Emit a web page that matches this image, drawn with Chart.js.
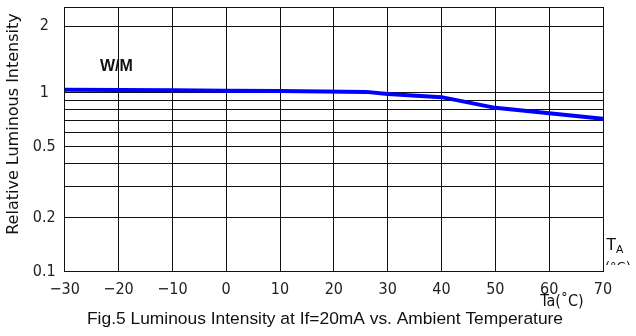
<!DOCTYPE html>
<html>
<head>
<meta charset="utf-8">
<script src="https://cdn.jsdelivr.net/npm/chart.js@4/dist/chart.umd.min.js"></script>
<style>
  html, body { margin: 0; padding: 0; background: #fff; }
  #wrap { width: 636px; height: 336px; position: relative; }
</style>
</head>
<body>
<div id="wrap"><canvas id="c"></canvas></div>
<script>
// Fig.5 - relative luminous intensity vs ambient temperature

const temps = [-30, -10, 0, 10, 26, 30, 40, 50, 60, 70];
const intensity = [1.036, 1.03, 1.024, 1.018, 1.008, 0.98, 0.942, 0.821, 0.767, 0.713];

const xTicks = [-30, -20, -10, 0, 10, 20, 30, 40, 50, 60, 70];
// horizontal grid lines; the "2" line sits at ~2.35 on the log scale in the picture
const yGrid = [0.1, 0.2, 0.3, 0.4, 0.5, 0.6, 0.7, 0.8, 0.9, 1, 2.35, 3];
const yLabelValues = [0.1, 0.2, 0.5, 1, 2.35];
const yLabels = ['0.1', '0.2', '0.5', '1', '2'];

const tickFont = { family: 'DejaVu Sans Condensed, DejaVu Sans', size: 16 };

const extraText = {
  id: 'extraText',
  afterDraw(chart) {
    const c = chart.ctx;
    c.save();
    c.fillStyle = '#111';
    // y axis title
    c.save();
    c.translate(14, 124);
    c.rotate(-Math.PI / 2);
    c.font = '16px "DejaVu Sans"';
    c.textAlign = 'center';
    c.textBaseline = 'middle';
    c.fillText('Relative Luminous Intensity', 0, 0);
    c.restore();

    c.font = 'bold 16px "Liberation Sans", Arial';
    c.textAlign = 'left';
    c.textBaseline = 'middle';
    c.fillText('W/M', 100, 67);

    // T_A at the right end
    c.font = '17px "Liberation Sans", Arial';
    c.fillText('T', 606, 245);
    c.font = '11px "Liberation Sans", Arial';
    c.fillText('A', 616, 250);
    c.save();
    c.beginPath();
    c.rect(600, 255, 36, 10);
    c.clip();
    c.font = '13px "DejaVu Sans"';
    c.fillText('(°C)', 605, 268);
    c.restore();

    c.font = '16px "DejaVu Sans Condensed", "DejaVu Sans"';
    c.textAlign = 'center';
    c.fillText('Ta(˚C)', 562, 302);

    c.font = '17.4px "Liberation Sans", Arial';
    c.fillText('Fig.5 Luminous Intensity at If=20mA vs. Ambient Temperature', 325, 319);
    c.restore();
  }
};

const ctx = document.getElementById('c').getContext('2d');
new Chart(ctx, {
  type: 'line',
  data: {
    datasets: [{
      data: temps.map((t, i) => ({ x: t, y: intensity[i] })),
      borderColor: '#0000ff',
      borderWidth: 4,
      pointRadius: 0,
      tension: 0,
      fill: false
    }]
  },
  options: {
    responsive: true,
    maintainAspectRatio: false,
    animation: false,
    layout: { padding: { left: 0, right: 33, top: 7, bottom: 0 } },
    plugins: { legend: { display: false }, tooltip: { enabled: false } },
    scales: {
      x: {
        type: 'linear',
        min: -30,
        max: 70,
        afterBuildTicks: (s) => { s.ticks = xTicks.map(v => ({ value: v })); },
        afterFit: (s) => { s.height = 64.3; s.paddingLeft = 0; s.paddingRight = 0; },
        grid: { color: '#111', lineWidth: 1, drawTicks: false },
        border: { color: '#111', width: 1 },
        ticks: {
          color: '#222',
          font: tickFont,
          padding: 9,
          maxRotation: 0,
          callback: (v) => (v < 0 ? '\u2212' + Math.abs(v) : String(v))
        }
      },
      y: {
        type: 'logarithmic',
        min: 0.1,
        max: 3,
        afterBuildTicks: (s) => { s.ticks = yGrid.map(v => ({ value: v })); },
        afterFit: (s) => { s.width = 64.7; s.paddingTop = 0; s.paddingBottom = 0; },
        grid: { color: '#111', lineWidth: 1, drawTicks: false },
        border: { color: '#111', width: 1 },
        ticks: {
          color: '#222',
          font: tickFont,
          padding: 9,
          crossAlign: 'center',
          autoSkip: false,
          callback: (v) => {
            const i = yLabelValues.indexOf(v);
            return i >= 0 ? yLabels[i] : '';
          }
        }
      }
    }
  },
  plugins: [extraText]
});
</script>
</body>
</html>
